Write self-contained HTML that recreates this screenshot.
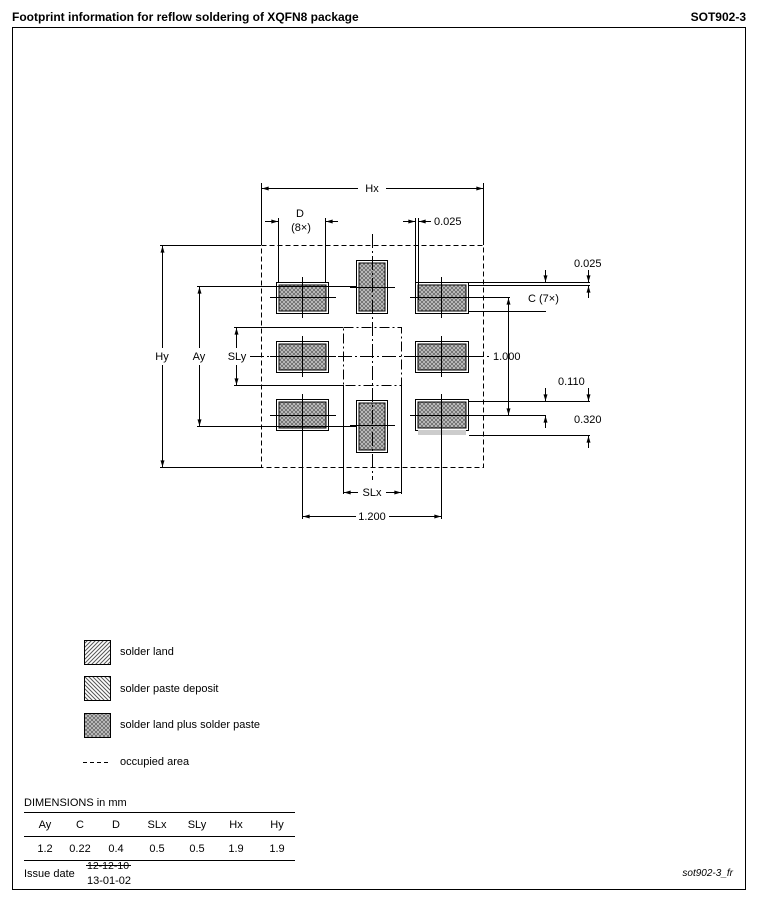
<!DOCTYPE html>
<html><head><meta charset="utf-8"><style>
body{margin:0;background:#fff;width:760px;height:907px;overflow:hidden}
svg{display:block}
text{font-family:"Liberation Sans",Arial,sans-serif;font-size:11px;fill:#000}
</style></head><body>
<svg width="760" height="907" viewBox="0 0 760 907" xmlns="http://www.w3.org/2000/svg">
<defs>
<pattern id="land" width="4" height="4" patternUnits="userSpaceOnUse"><rect width="4" height="4" fill="#fff"/><path d="M-1,1 L1,-1 M0,4 L4,0 M3,5 L5,3" stroke="#555" stroke-width="1"/></pattern>
<pattern id="paste" width="4" height="4" patternUnits="userSpaceOnUse"><rect width="4" height="4" fill="#fff"/><path d="M-1,3 L1,5 M0,0 L4,4 M3,-1 L5,1" stroke="#555" stroke-width="1"/></pattern>
<pattern id="both" width="4" height="4" patternUnits="userSpaceOnUse"><rect width="4" height="4" fill="#c8c8c8"/><path d="M0,0 L4,4 M0,4 L4,0" stroke="#666" stroke-width="0.8"/></pattern>
<marker id="a" viewBox="0 0 10 6" refX="10" refY="3" markerWidth="7" markerHeight="4" orient="auto-start-reverse"><path d="M0,0 L10,3 L0,6z" fill="#000"/></marker>
</defs>
<text x="12" y="21" style="font-weight:bold;font-size:12px">Footprint information for reflow soldering of XQFN8 package</text>
<text x="746" y="21" text-anchor="end" style="font-weight:bold;font-size:12px">SOT902-3</text>
<rect x="12.5" y="27.5" width="733" height="862" fill="none" stroke="#000"/>

<g stroke="#000" fill="none" stroke-width="1">
<rect x="261.5" y="245.5" width="222" height="222" stroke-dasharray="5,3"/>
<rect x="343.5" y="327.5" width="58" height="58" stroke-dasharray="10,3,2,3"/>
</g>

<g stroke="#000">
<rect x="276.5" y="282.5" width="52" height="31" fill="#fff"/><rect x="279" y="285" width="47" height="26" fill="url(#both)"/>
<rect x="276.5" y="341.5" width="52" height="31" fill="#fff"/><rect x="279" y="344" width="47" height="26" fill="url(#both)"/>
<rect x="276.5" y="399.5" width="52" height="31" fill="#fff"/><rect x="279" y="402" width="47" height="26" fill="url(#both)"/>
<rect x="415.5" y="282.5" width="53" height="31" fill="#fff"/><rect x="418" y="285" width="48" height="26" fill="url(#both)"/>
<rect x="415.5" y="341.5" width="53" height="31" fill="#fff"/><rect x="418" y="344" width="48" height="26" fill="url(#both)"/>
<rect x="415.5" y="399.5" width="53" height="31" fill="#fff"/><rect x="418" y="402" width="48" height="26" fill="url(#both)"/>
<rect x="418" y="430" width="48" height="5" fill="#ccc" stroke="none"/>
<rect x="356.5" y="260.5" width="31" height="53" fill="#fff"/><rect x="359" y="263" width="26" height="48" fill="url(#both)"/>
<rect x="356.5" y="400.5" width="31" height="52" fill="#fff"/><rect x="359" y="403" width="26" height="47" fill="url(#both)"/>
</g>

<g stroke="#000" stroke-width="1" fill="none">
<path d="M302.5,277V318 M302.5,336V377 M302.5,394V435 M441.5,277V318 M441.5,336V377 M441.5,394V435"/>
<path d="M270,297.5H336 M270,356.5H336 M270,415.5H336 M410,297.5H476 M410,356.5H476 M410,415.5H476"/>
<path d="M372.5,234V480" stroke-dasharray="14,3,2,3"/>
<path d="M250,356.5H492" stroke-dasharray="14,3,2,3"/>
<path d="M350,287.5H395 M350,425.5H395"/>
<path d="M261.5,183V245 M483.5,183V245"/>
<path d="M262,188.5H358 M386,188.5H483" marker-start="url(#a)" marker-end="url(#a)"/>
<path d="M278.5,218V282 M325.5,218V282"/>
<path d="M265,221.5H278" marker-end="url(#a)"/><path d="M338,221.5H326" marker-end="url(#a)"/>
<path d="M415.5,218V300 M418.5,218V300"/>
<path d="M403,221.5H415" marker-end="url(#a)"/><path d="M431,221.5H419" marker-end="url(#a)"/>
<path d="M160,245.5H261 M160,467.5H261"/>
<path d="M162.5,246V348 M162.5,365V467" marker-start="url(#a)" marker-end="url(#a)"/>
<path d="M197,286.5H356 M197,426.5H356"/>
<path d="M199.5,287V348 M199.5,365V426" marker-start="url(#a)" marker-end="url(#a)"/>
<path d="M234,327.5H343 M234,385.5H343"/>
<path d="M236.5,328V348 M236.5,365V385" marker-start="url(#a)" marker-end="url(#a)"/>
<path d="M469,282.5H590 M469,285.5H590 M469,297.5H510 M469,311.5H546"/>
<path d="M508.5,298V415" marker-start="url(#a)" marker-end="url(#a)"/>
<path d="M545.5,270V282" marker-end="url(#a)"/>
<path d="M588.5,270V282" marker-end="url(#a)"/><path d="M588.5,298V286" marker-end="url(#a)"/>
<path d="M469,401.5H590 M469,415.5H546 M469,435.5H590"/>
<path d="M545.5,388V401" marker-end="url(#a)"/><path d="M545.5,428V416" marker-end="url(#a)"/>
<path d="M588.5,388V401" marker-end="url(#a)"/><path d="M588.5,448V436" marker-end="url(#a)"/>
<path d="M343.5,385V494 M401.5,385V494"/>
<path d="M344,492.5H358 M386,492.5H401" marker-start="url(#a)" marker-end="url(#a)"/>
<path d="M302.5,430V519 M441.5,430V519"/>
<path d="M303,516.5H356 M389,516.5H441" marker-start="url(#a)" marker-end="url(#a)"/>
</g>
<text x="372" y="192" text-anchor="middle">Hx</text>
<text x="300" y="217" text-anchor="middle">D</text>
<text x="301" y="231" text-anchor="middle">(8×)</text>
<text x="434" y="225">0.025</text>
<text x="574" y="267">0.025</text>
<text x="528" y="302">C (7×)</text>
<text x="493" y="360">1.000</text>
<text x="558" y="385">0.110</text>
<text x="574" y="423">0.320</text>
<text x="162" y="360" text-anchor="middle">Hy</text>
<text x="199" y="360" text-anchor="middle">Ay</text>
<text x="237" y="360" text-anchor="middle">SLy</text>
<text x="372" y="496" text-anchor="middle">SLx</text>
<text x="372" y="520" text-anchor="middle">1.200</text>

<rect x="84.5" y="640.5" width="26" height="24" fill="url(#land)" stroke="#000"/>
<rect x="84.5" y="676.5" width="26" height="24" fill="url(#paste)" stroke="#000"/>
<rect x="84.5" y="713.5" width="26" height="24" fill="url(#both)" stroke="#000"/>
<path d="M83,762.5H108" stroke="#000" stroke-dasharray="4,3"/>
<text x="120" y="655">solder land</text>
<text x="120" y="692">solder paste deposit</text>
<text x="120" y="728">solder land plus solder paste</text>
<text x="120" y="765">occupied area</text>

<text x="24" y="806">DIMENSIONS in mm</text>
<path d="M24,812.5H295 M24,836.5H295 M24,860.5H295" stroke="#000"/>
<g text-anchor="middle">
<text x="45" y="828">Ay</text><text x="80" y="828">C</text><text x="116" y="828">D</text><text x="157" y="828">SLx</text><text x="197" y="828">SLy</text><text x="236" y="828">Hx</text><text x="277" y="828">Hy</text>
<text x="45" y="852">1.2</text><text x="80" y="852">0.22</text><text x="116" y="852">0.4</text><text x="157" y="852">0.5</text><text x="197" y="852">0.5</text><text x="236" y="852">1.9</text><text x="277" y="852">1.9</text>
</g>
<text x="24" y="877">Issue date</text>
<text x="87" y="869" style="font-size:10.5px">12-12-10</text>
<path d="M86,865.5H131" stroke="#000"/>
<text x="87" y="884">13-01-02</text>
<text x="733" y="876" text-anchor="end" style="font-style:italic;font-size:10px">sot902-3_fr</text>
</svg>
</body></html>
